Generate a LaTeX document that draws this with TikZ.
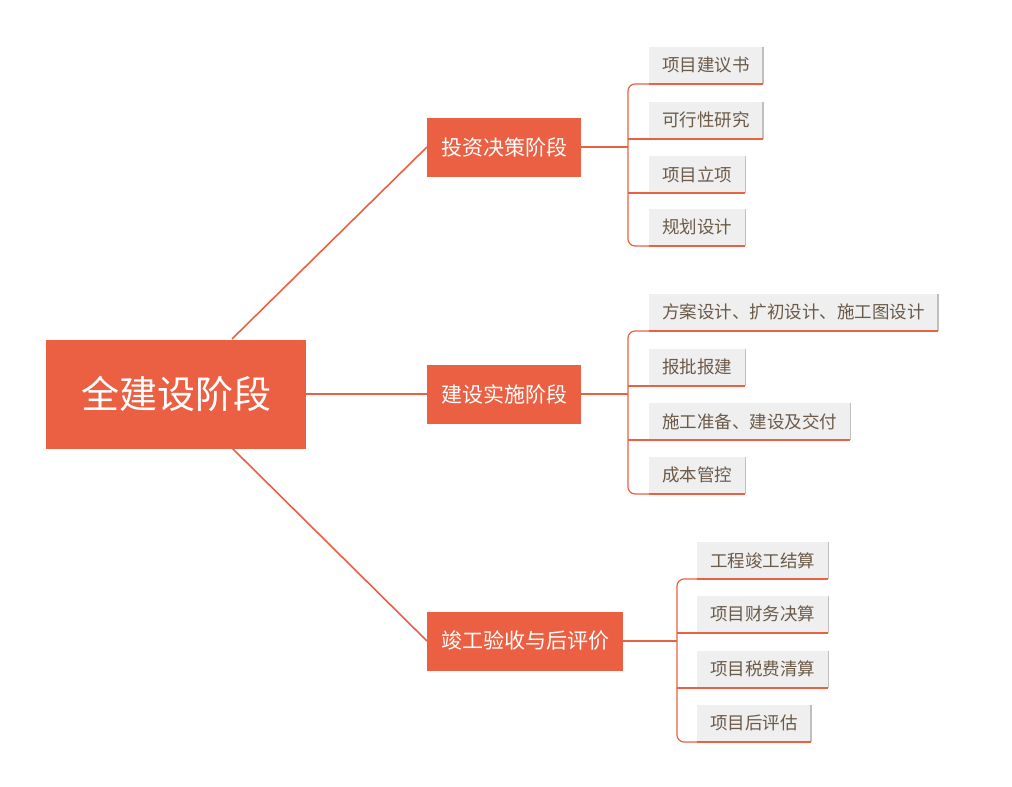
\documentclass[tikz,border=0pt]{standalone}
\usepackage{fontspec}
\setmainfont{Noto Sans CJK SC}
\usetikzlibrary{positioning}
\definecolor{accent}{HTML}{EB5F42}
\definecolor{leafgray}{HTML}{EFEFEF}
\definecolor{leaftext}{HTML}{6B5A48}
\tikzset{x=1pt, y=-1pt,
  root/.style={fill=accent, text=white, font=\fontsize{38}{40}\selectfont, minimum width=260pt, minimum height=109pt, inner sep=0pt},
  stage/.style={fill=accent, text=white, font=\fontsize{21}{24}\selectfont, minimum height=59pt, inner xsep=14pt, anchor=west},
  leaf/.style={fill=leafgray, text=leaftext, font=\fontsize{17.5}{20}\selectfont, minimum height=37pt, inner xsep=13pt, anchor=south west,
    append after command={\pgfextra{\let\lf\tikzlastnode}
      (\lf.north east) edge[draw=black!25, line width=1.5pt] (\lf.south east)
      (\lf.south west) edge[draw=accent, line width=1.2pt] (\lf.south east)}},
  link/.style={draw=accent, line width=1.6pt},
  bracket/.style={draw=accent, line width=1.2pt, rounded corners=7pt}}
\begin{document}
\begin{tikzpicture}
    \useasboundingbox (0,0) rectangle (1012,787);
    \node[root] at (176,394) (all) {全建设阶段};
    \node[stage] at (427,147) (decide) {投资决策阶段};
    \node[stage] at (427,394) (build) {建设实施阶段};
    \node[stage] at (427,641) (finish) {竣工验收与后评价};

    \node[leaf] at (649,84) (d1) {项目建议书};
    \node[leaf] at (649,139) (d2) {可行性研究};
    \node[leaf] at (649,193) (d3) {项目立项};
    \node[leaf] at (649,246) (d4) {规划设计};

    \node[leaf] at (649,331) (b1) {方案设计、扩初设计、施工图设计};
    \node[leaf] at (649,386) (b2) {报批报建};
    \node[leaf] at (649,440) (b3) {施工准备、建设及交付};
    \node[leaf] at (649,494) (b4) {成本管控};

    \node[leaf] at (697,579) (f1) {工程竣工结算};
    \node[leaf] at (697,633) (f2) {项目财务决算};
    \node[leaf] at (697,688) (f3) {项目税费清算};
    \node[leaf] at (697,742) (f4) {项目后评估};

    \draw[link] (232,339) -- (decide.west);
    \draw[link] (all.east) -- (build.west);
    \draw[link] (232,448) -- (finish.west);

    \draw[link] (decide.east) -- (628,147);
    \draw[bracket] (d1.south west) -- (628,84) -- (628,246) -- (d4.south west);
    \draw[bracket] (628,139) -- (d2.south west) (628,193) -- (d3.south west);

    \draw[link] (build.east) -- (628,394);
    \draw[bracket] (b1.south west) -- (628,331) -- (628,494) -- (b4.south west);
    \draw[bracket] (628,386) -- (b2.south west) (628,440) -- (b3.south west);

    \draw[link] (finish.east) -- (677,641);
    \draw[bracket] (f1.south west) -- (677,579) -- (677,742) -- (f4.south west);
    \draw[bracket] (677,633) -- (f2.south west) (677,688) -- (f3.south west);
\end{tikzpicture}
\end{document}
